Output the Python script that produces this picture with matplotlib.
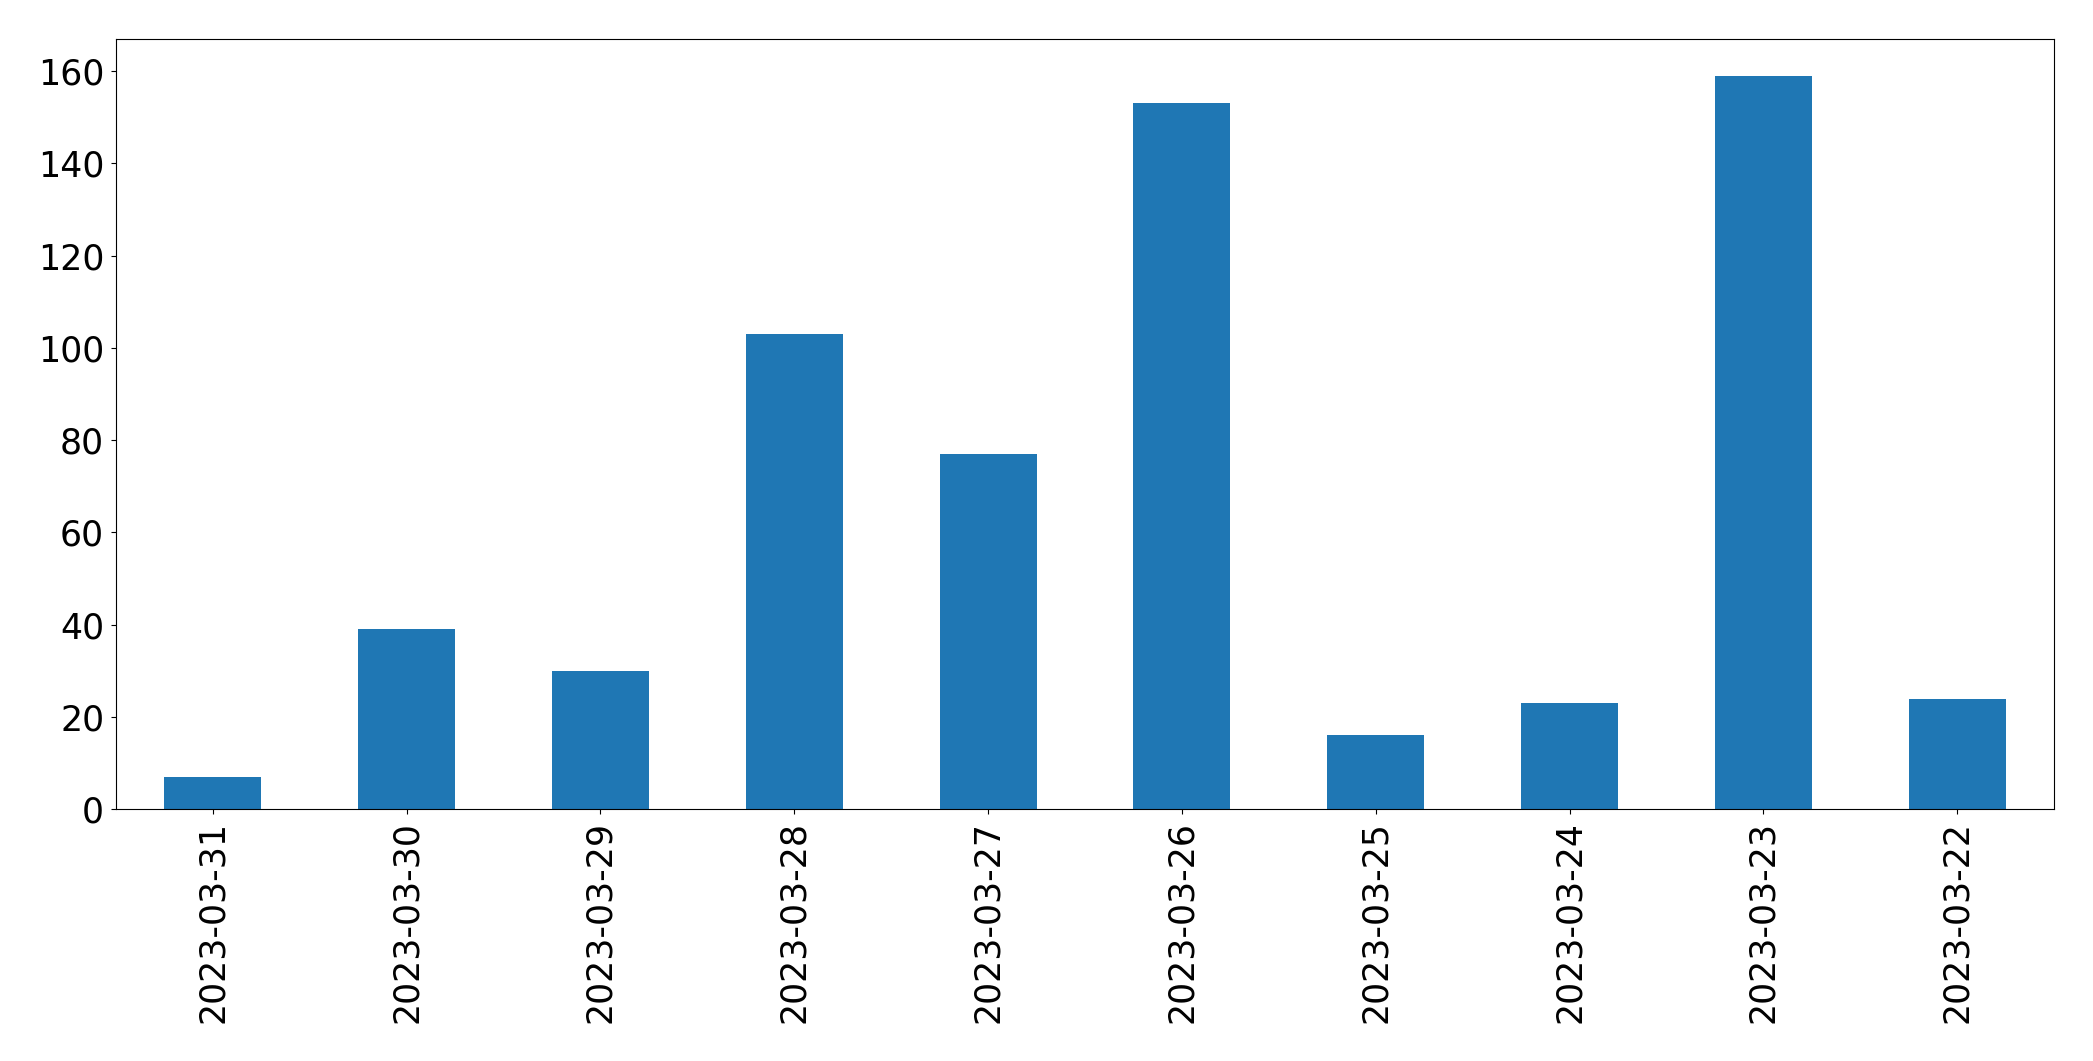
import numpy as np
import matplotlib
matplotlib.use("Agg")
import matplotlib.pyplot as plt

dates = ['2023-03-31', '2023-03-30', '2023-03-29', '2023-03-28', '2023-03-27',
         '2023-03-26', '2023-03-25', '2023-03-24', '2023-03-23', '2023-03-22']
counts = [7, 39, 30, 103, 77, 153, 16, 23, 159, 24]

fig = plt.figure(figsize=(20.93, 10.61), dpi=100)
ax = fig.add_axes([0.0554, 0.2372, 0.9260, 0.7261])

index = np.arange(len(dates))
ax.bar(index, counts, 0.5, color='#1f77b4')
ax.set_xlim(-0.5, len(dates) - 0.5)
ax.set_ylim(0, max(counts) * 1.05)
ax.set_xticks(index)
ax.set_xticklabels(dates, rotation=90)
ax.tick_params(axis='both', labelsize=25, pad=5)

fig.savefig('out.png', dpi=100)
